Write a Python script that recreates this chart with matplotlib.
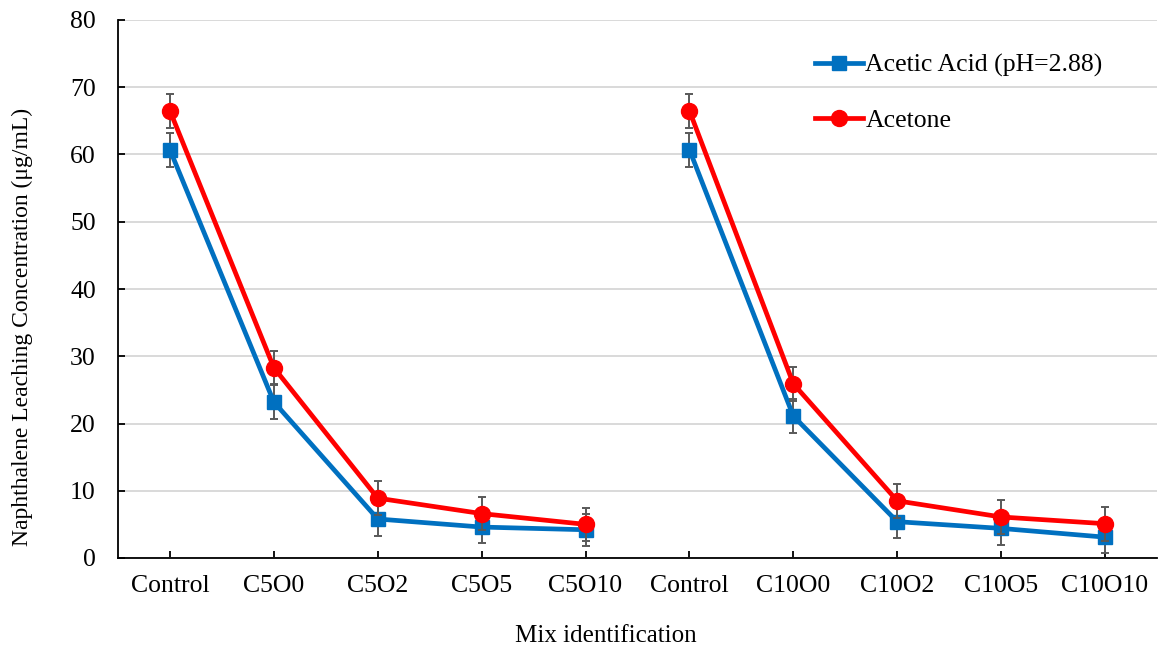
import matplotlib
matplotlib.use("Agg")
import matplotlib.pyplot as plt
from matplotlib.lines import Line2D
import numpy as np

categories = ["Control", "C5O0", "C5O2", "C5O5", "C5O10",
              "Control", "C10O0", "C10O2", "C10O5", "C10O10"]
acetic = [60.7, 23.2, 5.8, 4.6, 4.2, 60.7, 21.1, 5.4, 4.4, 3.1]
acetone = [66.5, 28.3, 8.9, 6.6, 5.0, 66.5, 25.9, 8.5, 6.1, 5.1]
acetic_err = [2.5, 2.5, 2.5, 2.4, 2.4, 2.5, 2.5, 2.5, 2.4, 2.4]
acetone_err = [2.5, 2.5, 2.5, 2.5, 2.5, 2.5, 2.5, 2.5, 2.5, 2.5]
series_names = ["Acetic Acid (pH=2.88)", "Acetone"]

plt.rcParams['font.family'] = ['Liberation Serif', 'DejaVu Serif']

W, H = 1161, 651
fig = plt.figure(figsize=(W / 100, H / 100), dpi=100)
ax = fig.add_axes([118 / W, 1 - 558 / H, (1157 - 118) / W, (558 - 20) / H])

x = np.arange(len(categories))
blue = "#0070C0"
red = "#FF0000"
ecol = "#595959"

for grp in (slice(0, 5), slice(5, 10)):
    ax.errorbar(x[grp], np.array(acetic)[grp], yerr=np.array(acetic_err)[grp],
                color=blue, lw=3.4, marker='s', ms=10, ecolor=ecol, elinewidth=1.4,
                capsize=3, capthick=1.4, zorder=3)
    ax.errorbar(x[grp], np.array(acetone)[grp], yerr=np.array(acetone_err)[grp],
                color=red, lw=3.4, marker='o', ms=11.5, ecolor=ecol, elinewidth=1.4,
                capsize=3, capthick=1.4, zorder=4)

ax.set_xlim(-0.5, 9.5)
ax.set_ylim(0, 80)
ax.set_yticks(np.arange(0, 81, 10))
ax.set_xticks(x)
ax.set_xticklabels(categories)
ax.grid(axis='y', color='#D9D9D9', lw=1.4)
ax.set_axisbelow(True)
for s in ("top", "right"):
    ax.spines[s].set_visible(False)
for s in ("left", "bottom"):
    ax.spines[s].set_color("black")
    ax.spines[s].set_linewidth(1.3)
ax.tick_params(axis='both', labelsize=18.5, direction='in', length=5, width=1.3, colors='black')
ax.tick_params(axis='x', pad=12)
ax.tick_params(axis='y', pad=16)

fig.text(22 / W, 1 - 327 / H, "Naphthalene Leaching Concentration (μg/mL)",
         rotation=90, ha='center', va='center', fontsize=17)
fig.text(606 / W, 1 - 636 / H, "Mix identification", ha='center', va='center', fontsize=18)

handles = [Line2D([], [], color=blue, lw=3.4, marker='s', ms=10),
           Line2D([], [], color=red, lw=3.4, marker='o', ms=11.5)]
ax.legend(handles, series_names, loc='upper left', bbox_to_anchor=(0.671, 0.937),
          frameon=False, fontsize=18.5, handlelength=1.85, labelspacing=1.22,
          handletextpad=0.1, borderaxespad=0, borderpad=0)

fig.savefig("out.png", dpi=100)
